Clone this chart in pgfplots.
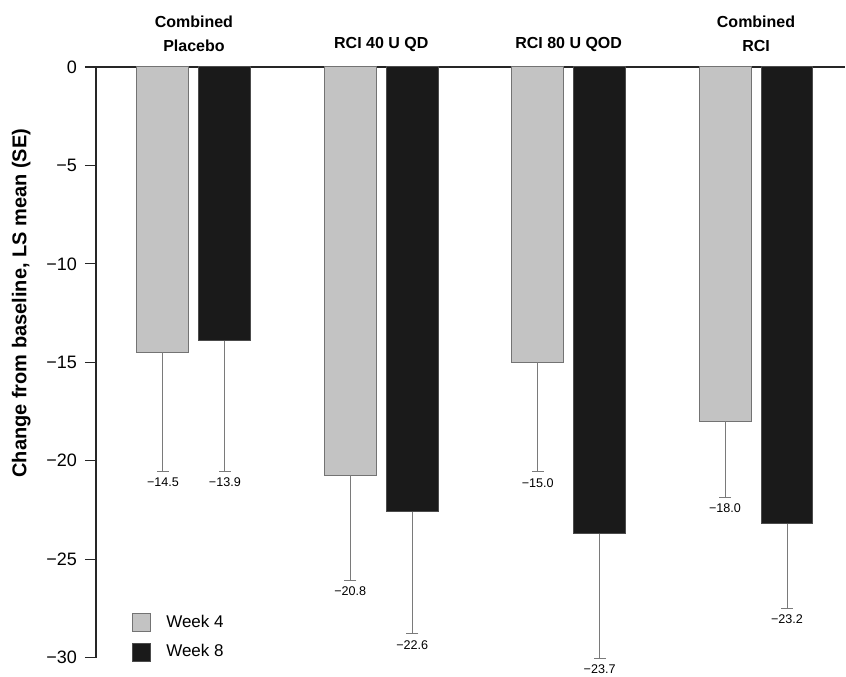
\documentclass[border=0pt]{standalone}
\usepackage{pgfplots}
\pgfplotsset{compat=1.18}
\usepackage{pgfplotstable}
\usepackage{fontspec}
\setmainfont{Liberation Sans}
\definecolor{wkfour}{HTML}{C3C3C3}
\definecolor{wkeight}{HTML}{1A1A1A}
\definecolor{ebar}{HTML}{7A7A7A}

% x: group index, y: LS mean, err: SE (downward), lab: printed value
\pgfplotstableread{
x y err lab
0 -14.5 6.05 −14.5
1 -20.75 5.35 −20.8
2 -15.0 5.57 −15.0
3 -18.0 3.88 −18.0
}\weekfour
\pgfplotstableread{
x y err lab
0 -13.9 6.65 −13.9
1 -22.6 6.2 −22.6
2 -23.7 6.35 −23.7
3 -23.2 4.3 −23.2
}\weekeight

\begin{document}
\begin{tikzpicture}
\begin{axis}[
  x=93.75pt, y=9.85pt,
  xmin=-0.523, xmax=3.477,
  ymin=-30, ymax=0,
  axis x line=top,
  axis y line=left,
  axis line style={-, black!85, line width=0.6pt},
  xtick={0,1,2,3},
  xticklabels={{Combined\\Placebo},{RCI 40 U QD},{RCI 80 U QOD},{Combined\\RCI}},
  xticklabel style={font=\fontsize{8}{12}\selectfont\bfseries, align=center, yshift=-1.5pt},
  x tick style={draw=none},
  ytick={-30,-25,-20,-15,-10,-5,0},
  yticklabels={−30,−25,−20,−15,−10,−5,0},
  yticklabel style={font=\fontsize{9}{10}\selectfont, xshift=-0.5pt},
  y tick style={black!85, line width=0.6pt},
  tick align=outside,
  major tick length=5.5pt,
  ylabel={Change from baseline, LS mean (SE)},
  ylabel shift=1pt,
  ylabel style={font=\fontsize{10}{12}\selectfont\bfseries, at={(ticklabel cs:0.6)}},
  legend style={draw=none, fill=none, at={(rel axis cs:0.04,0.086)}, anchor=north west,
    font=\fontsize{8.5}{10}\selectfont, row sep=3pt, cells={anchor=west}},
  legend image code/.code={\draw[#1] (0pt,-4.5pt) rectangle (9pt,4.5pt); \path (14.5pt,0pt);},
  clip=false,
]
\addplot[ybar, bar width=26pt, bar shift=0pt, fill=wkfour, draw=black!55, line width=0.5pt,
  error bars/.cd, y dir=minus, y explicit,
  error bar style={ebar, line width=0.5pt},
  error mark options={ebar, rotate=90, line width=0.5pt, mark size=3pt}]
  table[x expr=\thisrow{x}-0.1653, y=y, y error=err] {\weekfour};
\addlegendentry{Week 4}
\addplot[ybar, bar width=26pt, bar shift=0pt, fill=wkeight, draw=black!70, line width=0.5pt,
  error bars/.cd, y dir=minus, y explicit,
  error bar style={ebar, line width=0.5pt},
  error mark options={ebar, rotate=90, line width=0.5pt, mark size=3pt}]
  table[x expr=\thisrow{x}+0.1653, y=y, y error=err] {\weekeight};
\addlegendentry{Week 8}
% value labels below the error bars
\addplot[draw=none, mark=none, forget plot, nodes near coords, point meta=explicit symbolic,
  nodes near coords style={anchor=north, font=\fontsize{6.3}{7}\selectfont, inner sep=1.5pt, yshift=-1.5pt}]
  table[x expr=\thisrow{x}-0.1653, y expr=\thisrow{y}-\thisrow{err}, meta=lab] {\weekfour};
\addplot[draw=none, mark=none, forget plot, nodes near coords, point meta=explicit symbolic,
  nodes near coords style={anchor=north, font=\fontsize{6.3}{7}\selectfont, inner sep=1.5pt, yshift=-1.5pt}]
  table[x expr=\thisrow{x}+0.1653, y expr=\thisrow{y}-\thisrow{err}, meta=lab] {\weekeight};
% blank margins above the category labels and left of the y label, as in the reference
\path (rel axis cs:0,1) -- ++(0pt,33.5pt);
\path (rel axis cs:0,0.5) -- ++(-48pt,0pt);
\end{axis}
\end{tikzpicture}
\end{document}
